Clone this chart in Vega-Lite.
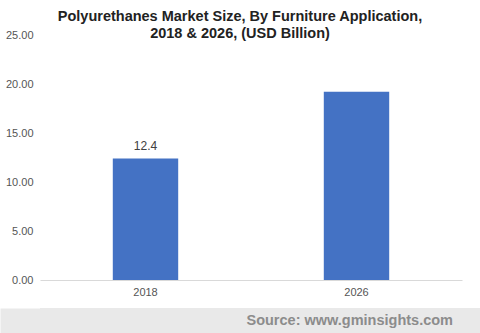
{
  "$schema": "https://vega.github.io/schema/vega-lite/v6.json",
  "padding": {"left": 0, "right": 0, "top": 8, "bottom": 0},
  "background": "white",
  "spacing": 0,
  "title": {
    "text": ["Polyurethanes Market Size, By Furniture Application,", "2018 & 2026, (USD Billion)"],
    "font": "Liberation Sans",
    "fontSize": 14.5,
    "fontWeight": "bold",
    "color": "#222222",
    "lineHeight": 17,
    "anchor": "middle",
    "offset": -12
  },
  "config": {"view": {"stroke": null}},
  "vconcat": [
    {
      "width": 422,
      "height": 245,
      "data": {"values": [
        {"year": "2018", "value": 12.4, "label": "12.4"},
        {"year": "2026", "value": 19.2, "label": ""}
      ]},
      "encoding": {
        "x": {
          "field": "year", "type": "nominal",
          "scale": {"paddingInner": 0.69, "paddingOuter": 0.345},
          "axis": {
            "title": null, "labelAngle": 0, "ticks": false, "grid": false,
            "domainColor": "#d9d9d9", "labelColor": "#555555",
            "labelFont": "Liberation Sans", "labelFontSize": 11,
            "labelPadding": 6, "minExtent": 28, "maxExtent": 28
          }
        },
        "y": {
          "field": "value", "type": "quantitative",
          "scale": {"domain": [0, 25]},
          "axis": {
            "title": null, "values": [0, 5, 10, 15, 20, 25], "format": ".2f",
            "ticks": false, "grid": false, "domain": false,
            "labelColor": "#555555", "labelFont": "Liberation Sans",
            "labelFontSize": 11, "labelPadding": 7, "minExtent": 40, "maxExtent": 40
          }
        }
      },
      "layer": [
        {"mark": {"type": "bar", "color": "#4472C4"}},
        {
          "mark": {"type": "text", "dy": -12, "font": "Liberation Sans", "fontSize": 12, "color": "#404040"},
          "encoding": {"text": {"field": "label"}}
        }
      ]
    },
    {
      "width": 440,
      "height": 25,
      "view": {"fill": "#e9e9e9", "stroke": null},
      "data": {"values": [{"source": "Source: www.gminsights.com", "pos": 1, "mid": 0.5}]},
      "mark": {
        "type": "text", "align": "right", "baseline": "middle", "dx": -27,
        "font": "Liberation Sans", "fontSize": 14.5, "fontWeight": "bold", "color": "#8c8c8c"
      },
      "encoding": {
        "text": {"field": "source"},
        "x": {"field": "pos", "type": "quantitative", "scale": {"domain": [0, 1]}, "axis": null},
        "y": {
          "field": "mid", "type": "quantitative", "scale": {"domain": [0, 1]},
          "axis": {
            "title": null, "labels": false, "ticks": false, "grid": false,
            "domain": true, "domainColor": "#e9e9e9", "domainWidth": 80, "domainCap": "butt",
            "minExtent": 0, "maxExtent": 40
          }
        }
      }
    }
  ]
}
